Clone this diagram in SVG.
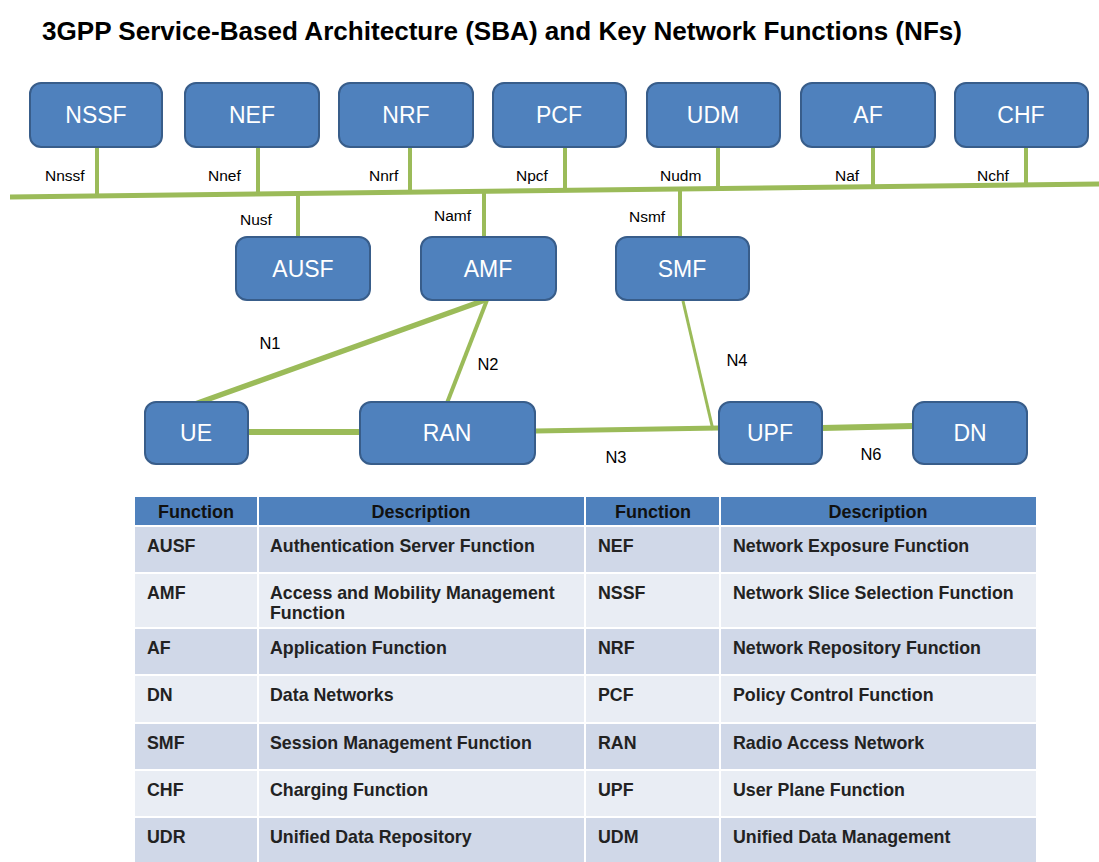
<svg xmlns="http://www.w3.org/2000/svg" width="1099" height="862" viewBox="0 0 1099 862">
<style>
.bg{fill:#ffffff}
.title{font-family:"Liberation Sans",Arial,sans-serif;font-weight:bold;font-size:25px;fill:#000}
.node rect{fill:#4F81BD;stroke:#385D8A;stroke-width:2}
.node text{font-family:"Liberation Sans",Arial,sans-serif;font-size:23px;fill:#fff;text-anchor:middle}
.bus{stroke:#9BBB59;fill:none;stroke-linecap:butt}
.lbl{font-family:"Liberation Sans",Arial,sans-serif;font-size:15.5px;fill:#000}
.elbl{font-family:"Liberation Sans",Arial,sans-serif;font-size:16.5px;fill:#000;text-anchor:middle}
.hd{fill:#4F81BD}
.rd{fill:#D0D8E8}
.rl{fill:#E9EDF4}
.sep{stroke:#ffffff;stroke-width:2}
.th{font-family:"Liberation Sans",Arial,sans-serif;font-weight:bold;font-size:18px;fill:#111;text-anchor:middle}
.td{font-family:"Liberation Sans",Arial,sans-serif;font-weight:bold;font-size:17.8px;fill:#222}
</style>
<rect class="bg" x="0" y="0" width="1099" height="862"/>
<text class="title" x="42" y="40" textLength="920" lengthAdjust="spacingAndGlyphs">3GPP Service-Based Architecture (SBA) and Key Network Functions (NFs)</text>

<g id="connectors">
  <line class="bus" x1="10" y1="197" x2="1099" y2="184" stroke-width="5"/>
  <line class="bus" x1="97" y1="147" x2="97" y2="197" stroke-width="4"/>
  <line class="bus" x1="258" y1="147" x2="258" y2="195" stroke-width="4"/>
  <line class="bus" x1="410" y1="147" x2="410" y2="193" stroke-width="4"/>
  <line class="bus" x1="565" y1="147" x2="565" y2="192" stroke-width="4"/>
  <line class="bus" x1="718" y1="147" x2="718" y2="190" stroke-width="4"/>
  <line class="bus" x1="873" y1="147" x2="873" y2="188" stroke-width="4"/>
  <line class="bus" x1="1026" y1="147" x2="1026" y2="186" stroke-width="4"/>
  <line class="bus" x1="298" y1="193" x2="298" y2="237" stroke-width="4"/>
  <line class="bus" x1="484" y1="191" x2="484" y2="237" stroke-width="4"/>
  <line class="bus" x1="680" y1="189" x2="680" y2="237" stroke-width="4"/>
  <line class="bus" x1="195" y1="404" x2="485" y2="300" stroke-width="5.5"/>
  <line class="bus" x1="447" y1="403" x2="487" y2="300" stroke-width="4"/>
  <line class="bus" x1="683" y1="301" x2="713" y2="430" stroke-width="3"/>
  <line class="bus" x1="248" y1="432" x2="360" y2="432" stroke-width="6"/>
  <line class="bus" x1="535" y1="431" x2="719" y2="428" stroke-width="5"/>
  <line class="bus" x1="822" y1="428" x2="913" y2="426" stroke-width="6"/>
  <text class="lbl" x="45" y="181">Nnssf</text>
  <text class="lbl" x="208" y="181">Nnef</text>
  <text class="lbl" x="369" y="181">Nnrf</text>
  <text class="lbl" x="516" y="181">Npcf</text>
  <text class="lbl" x="660" y="181">Nudm</text>
  <text class="lbl" x="835" y="181">Naf</text>
  <text class="lbl" x="977" y="181">Nchf</text>
  <text class="lbl" x="240" y="225">Nusf</text>
  <text class="lbl" x="434" y="221">Namf</text>
  <text class="lbl" x="629" y="222">Nsmf</text>
  <text class="elbl" x="270" y="349">N1</text>
  <text class="elbl" x="488" y="370">N2</text>
  <text class="elbl" x="737" y="366">N4</text>
  <text class="elbl" x="616" y="463">N3</text>
  <text class="elbl" x="871" y="460">N6</text>
</g>

<g id="node-nssf" class="node"><rect x="30" y="83" width="132" height="64" rx="11"/><text x="96" y="123">NSSF</text></g>
<g id="node-nef" class="node"><rect x="185" y="83" width="134" height="64" rx="11"/><text x="252" y="123">NEF</text></g>
<g id="node-nrf" class="node"><rect x="339" y="83" width="134" height="64" rx="11"/><text x="406" y="123">NRF</text></g>
<g id="node-pcf" class="node"><rect x="493" y="83" width="133" height="64" rx="11"/><text x="559" y="123">PCF</text></g>
<g id="node-udm" class="node"><rect x="647" y="83" width="133" height="64" rx="11"/><text x="713" y="123">UDM</text></g>
<g id="node-af" class="node"><rect x="801" y="83" width="134" height="64" rx="11"/><text x="868" y="123">AF</text></g>
<g id="node-chf" class="node"><rect x="955" y="83" width="133" height="64" rx="11"/><text x="1021" y="123">CHF</text></g>

<g id="node-ausf" class="node"><rect x="236" y="237" width="134" height="63" rx="11"/><text x="303" y="277">AUSF</text></g>
<g id="node-amf" class="node"><rect x="421" y="237" width="135" height="63" rx="11"/><text x="488" y="277">AMF</text></g>
<g id="node-smf" class="node"><rect x="616" y="237" width="133" height="63" rx="11"/><text x="682" y="277">SMF</text></g>

<g id="node-ue" class="node"><rect x="145" y="402" width="103" height="62" rx="11"/><text x="196" y="441">UE</text></g>
<g id="node-ran" class="node"><rect x="360" y="402" width="175" height="62" rx="11"/><text x="447" y="441">RAN</text></g>
<g id="node-upf" class="node"><rect x="719" y="402" width="103" height="62" rx="11"/><text x="770" y="441">UPF</text></g>
<g id="node-dn" class="node"><rect x="913" y="402" width="114" height="62" rx="11"/><text x="970" y="441">DN</text></g>

<g id="table">
  <rect class="hd" x="135" y="497" width="901" height="29"/>
  <rect class="rd" x="135" y="526" width="901" height="47"/>
  <rect class="rl" x="135" y="573" width="901" height="55"/>
  <rect class="rd" x="135" y="628" width="901" height="47"/>
  <rect class="rl" x="135" y="675" width="901" height="48"/>
  <rect class="rd" x="135" y="723" width="901" height="47"/>
  <rect class="rl" x="135" y="770" width="901" height="47"/>
  <rect class="rd" x="135" y="817" width="901" height="45"/>
  <line class="sep" x1="135" y1="526" x2="1036" y2="526"/>
  <line class="sep" x1="135" y1="573" x2="1036" y2="573"/>
  <line class="sep" x1="135" y1="628" x2="1036" y2="628"/>
  <line class="sep" x1="135" y1="675" x2="1036" y2="675"/>
  <line class="sep" x1="135" y1="723" x2="1036" y2="723"/>
  <line class="sep" x1="135" y1="770" x2="1036" y2="770"/>
  <line class="sep" x1="135" y1="817" x2="1036" y2="817"/>
  <line class="sep" x1="258" y1="497" x2="258" y2="862"/>
  <line class="sep" x1="585" y1="497" x2="585" y2="862"/>
  <line class="sep" x1="720" y1="497" x2="720" y2="862"/>
  <text class="th" x="196" y="518">Function</text>
  <text class="th" x="421" y="518">Description</text>
  <text class="th" x="653" y="518">Function</text>
  <text class="th" x="878" y="518">Description</text>

  <text class="td" x="147" y="552">AUSF</text>
  <text class="td" x="270" y="552">Authentication Server Function</text>
  <text class="td" x="598" y="552">NEF</text>
  <text class="td" x="733" y="552">Network Exposure Function</text>

  <text class="td" x="147" y="599">AMF</text>
  <text class="td" x="270" y="599">Access and Mobility Management</text>
  <text class="td" x="270" y="619">Function</text>
  <text class="td" x="598" y="599">NSSF</text>
  <text class="td" x="733" y="599">Network Slice Selection Function</text>

  <text class="td" x="147" y="654">AF</text>
  <text class="td" x="270" y="654">Application Function</text>
  <text class="td" x="598" y="654">NRF</text>
  <text class="td" x="733" y="654">Network Repository Function</text>

  <text class="td" x="147" y="701">DN</text>
  <text class="td" x="270" y="701">Data Networks</text>
  <text class="td" x="598" y="701">PCF</text>
  <text class="td" x="733" y="701">Policy Control Function</text>

  <text class="td" x="147" y="749">SMF</text>
  <text class="td" x="270" y="749">Session Management Function</text>
  <text class="td" x="598" y="749">RAN</text>
  <text class="td" x="733" y="749">Radio Access Network</text>

  <text class="td" x="147" y="796">CHF</text>
  <text class="td" x="270" y="796">Charging Function</text>
  <text class="td" x="598" y="796">UPF</text>
  <text class="td" x="733" y="796">User Plane Function</text>

  <text class="td" x="147" y="843">UDR</text>
  <text class="td" x="270" y="843">Unified Data Repository</text>
  <text class="td" x="598" y="843">UDM</text>
  <text class="td" x="733" y="843">Unified Data Management</text>
</g>
</svg>
